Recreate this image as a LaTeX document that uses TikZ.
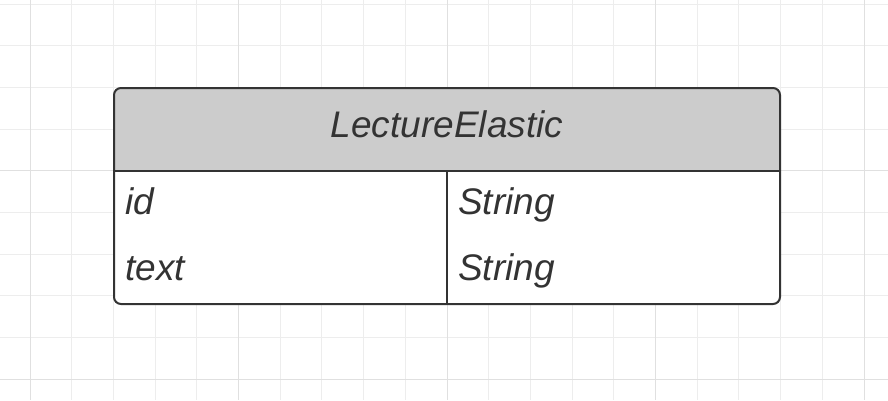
\documentclass[tikz,border=0pt]{standalone}
\usepackage{fontspec}
\setmainfont{Liberation Sans}
\begin{document}
\begin{tikzpicture}[x=1pt,y=-1pt,
  minorgrid/.style={draw=black!7,line width=1pt},
  majorgrid/.style={draw=black!12,line width=1pt},
  frame/.style={draw=black!80,line width=2pt},
  label/.style={inner sep=0pt,text=black!80,font=\fontsize{37}{44}\selectfont\itshape},
]
\definecolor{headfill}{HTML}{CCCCCC}
\useasboundingbox (0,0) rectangle (888,400);
\fill[white] (0,0) rectangle (888,400);
% background grid
\foreach \k in {0,...,20} {
  \pgfmathsetmacro{\gx}{30+41.7*\k}
  \draw[minorgrid] (\gx,0) -- (\gx,400);
}
\foreach \k in {0,...,9} {
  \pgfmathsetmacro{\gy}{4+41.7*\k}
  \draw[minorgrid] (0,\gy) -- (888,\gy);
}
\foreach \gx in {30,238.5,447,655.5,864} \draw[majorgrid] (\gx,0) -- (\gx,400);
\foreach \gy in {170.8,379.3} \draw[majorgrid] (0,\gy) -- (888,\gy);
% entity table
\coordinate (tl) at (114,88);
\coordinate (br) at (780,304);
\fill[white,rounded corners=7pt] (tl) rectangle (br);
\fill[headfill,rounded corners=7pt] (114,88) -- (780,88) -- (780,171) -- (114,171) -- cycle;
\fill[headfill] (114,120) rectangle (780,171);
\draw[frame] (114,171) -- (780,171);
\draw[frame] (447,171) -- (447,304);
\draw[frame,rounded corners=7pt] (tl) rectangle (br);
\node[label,anchor=base] (title) at (447,137.5) {LectureElastic};
\node[label,anchor=base west] (f1) at (125,214) {id};
\node[label,anchor=base west] (t1) at (458,214) {String};
\node[label,anchor=base west] (f2) at (125,280) {text};
\node[label,anchor=base west] (t2) at (458,280) {String};
\end{tikzpicture}
\end{document}
